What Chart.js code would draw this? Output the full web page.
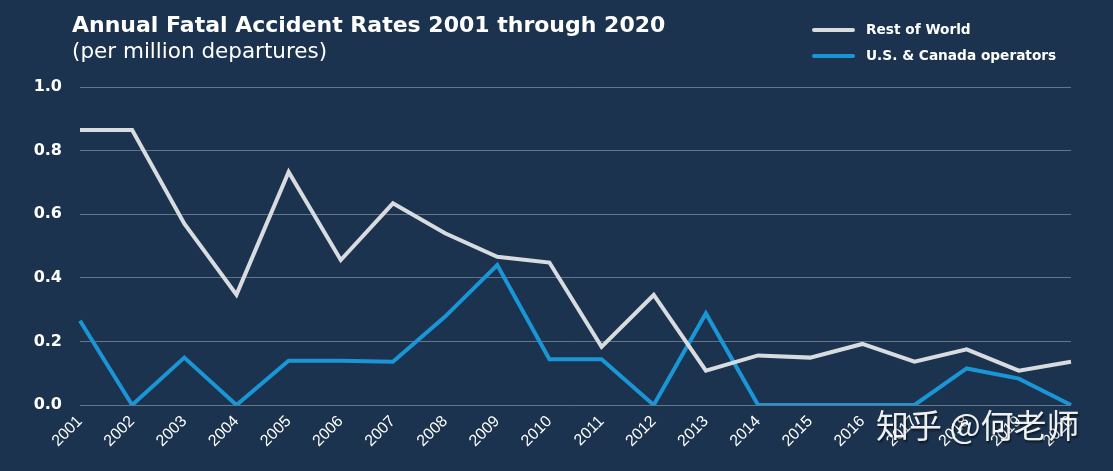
<!DOCTYPE html>
<html>
<head>
<meta charset="utf-8">
<script src="https://cdn.jsdelivr.net/npm/chart.js@4"></script>
<style>
  html, body { margin:0; padding:0; background:#1b334e; }
  #wrap { position:relative; width:1113px; height:471px; background:#1b334e; overflow:hidden; font-family:"DejaVu Sans", sans-serif; }
  #chart { position:absolute; left:0; top:0; }
  .title { position:absolute; left:72px; top:12px; color:#fff; font-weight:bold; font-size:22px; }
  .sub { position:absolute; left:72px; top:38px; color:#fff; font-size:21.5px; }
  .leg { position:absolute; left:812px; color:#fff; font-weight:bold; font-size:13.7px; }
  .leg span { display:inline-block; width:43px; height:4px; margin-right:11px; vertical-align:middle; border-radius:2px; }
  .mark { position:absolute; left:876px; top:400px; color:#fff; font-family:"Noto Sans CJK SC", sans-serif; font-size:33px; text-shadow:1px 2px 2px rgba(0,0,0,0.6); opacity:0.92; }
</style>
</head>
<body>
<div id="wrap">
  <canvas id="chart" width="1113" height="471"></canvas>
  <div class="title">Annual Fatal Accident Rates 2001 through 2020</div>
  <div class="sub">(per million departures)</div>
  <div class="leg" style="top:21px"><span style="background:#d8dce1"></span>Rest of World</div>
  <div class="leg" style="top:47px"><span style="background:#1a96d6"></span>U.S. &amp; Canada operators</div>
  <div class="mark">知乎 @何老师</div>
</div>
<script>
// Annual fatal accident rates per million departures
const years = ['2001','2002','2003','2004','2005','2006','2007','2008','2009','2010',
               '2011','2012','2013','2014','2015','2016','2017','2018','2019','2020'];
const restOfWorld = [0.865, 0.865, 0.57, 0.347, 0.733, 0.456, 0.634, 0.54, 0.466, 0.448,
                     0.183, 0.346, 0.108, 0.156, 0.149, 0.192, 0.136, 0.175, 0.108, 0.136];
const usCanada = [0.265, 0, 0.149, 0, 0.139, 0.139, 0.136, 0.278, 0.44, 0.144,
                  0.144, 0, 0.288, 0, 0, 0, 0, 0.115, 0.083, 0];
const yTicks = [0, 0.2, 0.4, 0.6, 0.8, 1.0];

(function(){
  const ctx = document.getElementById('chart');
  new Chart(ctx, {
    type: 'line',
    data: {
      labels: years,
      datasets: [
        { label:'Rest of World', data: restOfWorld, borderColor:'#d8dce1', borderWidth:4, pointRadius:0, tension:0 },
        { label:'U.S. & Canada operators', data: usCanada, borderColor:'#1a96d6', borderWidth:4, pointRadius:0, tension:0 }
      ]
    },
    options: {
      responsive: false,
      animation: false,
      devicePixelRatio: 1,
      layout: { padding: { top: 87, right: 42, left: 0, bottom: 0 } },
      plugins: { legend: { display:false }, tooltip: { enabled:false } },
      scales: {
        x: {
          offset: false,
          grid: { display:false, drawTicks:false },
          border: { display:false },
          ticks: { color:'#ffffff', font:{ family:'Liberation Sans', size:16 }, maxRotation:45, minRotation:45, padding:7 },
          afterFit: s => { s.height = 66; }
        },
        y: {
          min: 0, max: 1,
          afterBuildTicks: s => { s.ticks = yTicks.map(v => ({ value:v })); },
          grid: { color:'rgba(190,200,212,0.45)', lineWidth:1, drawTicks:false },
          border: { display:false },
          ticks: { color:'#ffffff', font:{ family:'DejaVu Sans', size:16, weight:'bold' }, padding:18,
                   callback: v => Number(v).toFixed(1) },
          afterFit: s => { s.width = 80; }
        }
      }
    }
  });
})();
</script>
</body>
</html>
